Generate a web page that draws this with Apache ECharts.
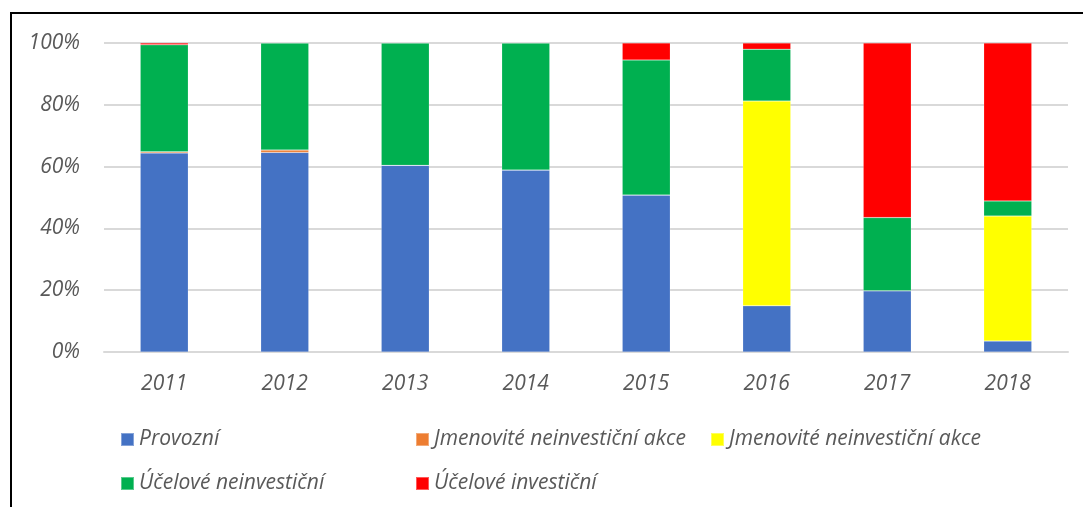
<!DOCTYPE html>
<html lang="cs">
<head>
  <meta charset="UTF-8">
  <title>Struktura dotací</title>
  <style>
    *{
      margin: 0;
      padding: 0;
    }
    body{
      position: relative;
      width: 1083px;
      height: 507px;
      overflow: hidden;
      background: #ffffff;
    }
    .frame{
      position: absolute;
      left: 10px;
      top: 12px;
      width: 1100px;
      height: 520px;
      border: 2px solid #000000;
    }
    .chart-wrapper{
      position: absolute;
      top: 0;
      left: 0;
      width: 1083px;
      height: 507px;
    }
  </style>
</head>
<body>
<div class="frame"></div>
<div class="chart-wrapper" id="chart"></div>

<script type="text/javascript" src="https://cdn.jsdelivr.net/npm/echarts@6/dist/echarts.min.js"></script>
<script>
  // roky
  var years = ['2011', '2012', '2013', '2014', '2015', '2016', '2017', '2018'];
  // podíly v %
  var provozni = [64.4, 64.6, 60.4, 58.9, 50.8, 15.0, 19.8, 3.6];
  var jmenoviteOrange = [0.4, 0.8, 0, 0, 0, 0, 0, 0];
  var jmenoviteYellow = [0, 0, 0, 0, 0, 66.2, 0, 40.4];
  var ucelNeinv = [34.6, 34.6, 39.6, 41.1, 43.7, 16.8, 23.7, 4.9];
  var ucelInv = [0.6, 0, 0, 0, 5.5, 2.0, 56.5, 51.1];

  var seriesNames = [
    'Provozní',
    'Jmenovité neinvestiční akce',
    'Jmenovité neinvestiční akce ', // druhá řada se stejným textem
    'Účelové neinvestiční',
    'Účelové investiční'
  ];
  var colors = ['#4472C4', '#ED7D31', '#FFFF00', '#00B050', '#FF0000'];
  var values = [provozni, jmenoviteOrange, jmenoviteYellow, ucelNeinv, ucelInv];

  var textStyle = {
    color: '#595959',
    fontSize: 21,
    fontStyle: 'italic',
    fontFamily: 'Open Sans'
  };

  var legendPos = [
    { left: 120, top: 429 },
    { left: 415, top: 429 },
    { left: 710, top: 429 },
    { left: 120, top: 473 },
    { left: 415, top: 473 }
  ];

  var myChart = echarts.init(document.getElementById('chart'));

  var option = {
    animation: false,
    color: colors,
    grid: {
      left: 104,
      right: 15,
      top: 43,
      bottom: 155
    },
    legend: seriesNames.map(function (name, i) {
      return {
        data: [name],
        left: legendPos[i].left,
        top: legendPos[i].top,
        icon: 'rect',
        itemWidth: 13,
        itemHeight: 13,
        itemGap: 5,
        padding: 0,
        textStyle: textStyle,
        selectedMode: false
      };
    }),
    xAxis: {
      type: 'category',
      data: years,
      axisLine: { lineStyle: { color: '#d9d9d9', width: 2 } },
      axisTick: { show: false },
      axisLabel: Object.assign({ margin: 22 }, textStyle)
    },
    yAxis: {
      type: 'value',
      min: 0,
      max: 100,
      interval: 20,
      axisLine: { show: false },
      axisTick: { show: false },
      splitLine: { lineStyle: { color: '#d9d9d9', width: 2 } },
      axisLabel: Object.assign({ margin: 24, formatter: '{value}%' }, textStyle)
    },
    series: seriesNames.map(function (name, i) {
      return {
        name: name,
        type: 'bar',
        stack: 'celkem',
        barWidth: 48,
        data: values[i],
        itemStyle: {
          color: colors[i],
          borderColor: 'rgba(255,255,255,0.35)',
          borderWidth: 0.5
        }
      };
    })
  };

  myChart.setOption(option);
</script>
</body>
</html>
